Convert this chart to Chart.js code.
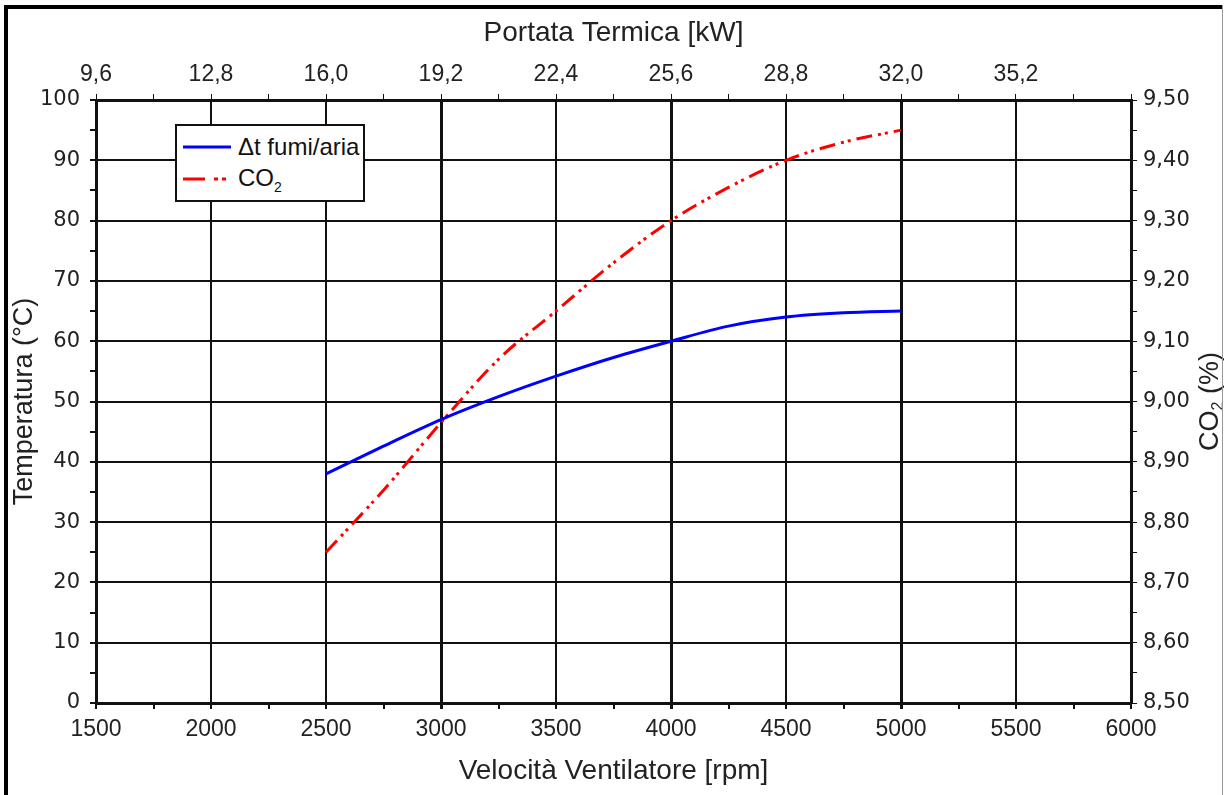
<!DOCTYPE html>
<html>
<head>
<meta charset="utf-8">
<script src="https://cdn.jsdelivr.net/npm/chart.js@4.4.0/dist/chart.umd.min.js"></script>
<style>
  body { margin: 0; background: #fff; }
  #wrap { position: relative; width: 1227px; height: 795px; overflow: hidden; }
  #frameL { position: absolute; left: 4px; top: 5px; width: 4px; height: 790px; background: #000; }
  #frameT { position: absolute; left: 4px; top: 5px; width: 1219px; height: 4px; background: #000; }
  #frameR { position: absolute; left: 1222px; top: 5px; width: 1px; height: 790px; background: #999; }
  #legend {
    position: absolute; left: 175px; top: 124px; width: 186px; height: 74px;
    border: 2px solid #111; background: #fff;
    font-family: "Liberation Sans", Arial, sans-serif; font-size: 24px; color: #111;
  }
  .row { position: absolute; left: 6px; height: 26px; display: flex; align-items: center; white-space: nowrap; }
  .row svg { margin-right: 7px; }
</style>
</head>
<body>
<div id="wrap">
  <canvas id="chart" width="1227" height="795"></canvas>
  <div id="frameL"></div><div id="frameT"></div><div id="frameR"></div>
  <div id="legend">
    <div class="row" style="top:8px">
      <svg width="48" height="6"><line x1="0" y1="3" x2="48" y2="3" stroke="#0000ff" stroke-width="3"/></svg>
      <span>&Delta;t fumi/aria</span>
    </div>
    <div class="row" style="top:40px">
      <svg width="48" height="6"><line x1="0" y1="3" x2="48" y2="3" stroke="#ff0000" stroke-width="3" stroke-dasharray="22,9,4,4,4,20"/></svg>
      <span>CO<sub style="font-size:14px">2</sub></span>
    </div>
  </div>
</div>
<script>
// values
const rpm = [2500, 2750, 3000, 3250, 3500, 3750, 4000, 4250, 4500, 4750, 5000];
const dtFumi = [38, 42.6, 47, 50.8, 54.2, 57.3, 60, 62.5, 64, 64.7, 65];
const co2 = [8.75, 8.853, 8.965, 9.07, 9.15, 9.23, 9.30, 9.355, 9.40, 9.43, 9.45];

// axis ranges / ticks
const rpmRange = [1500, 6000];
const kwRange = [9.6, 38.4];
const tempRange = [0, 100];
const co2Range = [8.5, 9.5];

const comma = (v, d) => v.toFixed(d).replace('.', ',');
const xFont = { family: '"Liberation Sans Narrow", "Liberation Sans", Arial', size: 23 };
const yFont = { family: '"DejaVu Sans", sans-serif', size: 21 };
const titleFont = { family: '"Liberation Sans", Arial', size: 28, lineHeight: 1 };

function pts(ys) {
  return rpm.map((x, i) => ({ x: x, y: ys[i] }));
}

// right axis title reads bottom-to-top, with a subscript 2
const co2Title = {
  id: 'co2Title',
  afterDraw(chart) {
    const ctx = chart.ctx;
    const a = chart.chartArea;
    ctx.save();
    ctx.translate(1211, (a.top + a.bottom) / 2);
    ctx.rotate(-Math.PI / 2);
    ctx.fillStyle = '#222';
    ctx.textBaseline = 'middle';
    ctx.font = '27px "Liberation Sans", Arial';
    const w1 = ctx.measureText('CO').width;
    ctx.font = '16px "Liberation Sans", Arial';
    const w2 = ctx.measureText('2').width;
    ctx.font = '27px "Liberation Sans", Arial';
    const w3 = ctx.measureText(' (%)').width;
    let x = -(w1 + w2 + w3) / 2;
    ctx.textAlign = 'left';
    ctx.fillText('CO', x, 0);
    x += w1;
    ctx.font = '16px "Liberation Sans", Arial';
    ctx.fillText('2', x, 8);
    x += w2;
    ctx.font = '27px "Liberation Sans", Arial';
    ctx.fillText(' (%)', x, 0);
    ctx.restore();
  }
};

new Chart(document.getElementById('chart'), {
  type: 'line',
  data: {
    datasets: [{
      label: 'Δt fumi/aria',
      data: pts(dtFumi),
      xAxisID: 'x',
      yAxisID: 'y',
      borderColor: '#0000ff',
      borderWidth: 3,
      pointRadius: 0,
      cubicInterpolationMode: 'monotone'
    }, {
      label: 'CO2',
      data: pts(co2),
      xAxisID: 'x',
      yAxisID: 'y2',
      borderColor: '#ff0000',
      borderWidth: 3,
      borderDash: [16, 6, 3, 4, 3, 6],
      pointRadius: 0,
      cubicInterpolationMode: 'monotone'
    }]
  },
  plugins: [co2Title],
  options: {
    responsive: false,
    animation: false,
    events: [],
    layout: { padding: 0 },
    plugins: { legend: { display: false }, tooltip: { enabled: false } },
    scales: {
      x: {
        type: 'linear',
        position: 'bottom',
        min: rpmRange[0],
        max: rpmRange[1],
        afterFit: (s) => { s.height = 92; },
        border: { color: '#111', width: 3 },
        grid: {
          color: (c) => c.tick && c.tick.value % 500 === 0 ? '#111' : 'rgba(0,0,0,0)',
          lineWidth: (c) => c.tick && [3000, 4000, 5000].includes(c.tick.value) ? 3 : 2,
          tickColor: '#111',
          tickLength: 6
        },
        ticks: {
          stepSize: 250,
          autoSkip: false,
          maxRotation: 0,
          padding: 7,
          color: '#222',
          font: xFont,
          callback: (v) => v % 500 === 0 ? String(v) : ''
        },
        title: {
          display: true,
          text: 'Velocità Ventilatore [rpm]',
          color: '#222',
          font: titleFont,
          padding: { top: 0, bottom: 10 }
        }
      },
      x2: {
        type: 'linear',
        position: 'top',
        min: kwRange[0],
        max: kwRange[1],
        afterFit: (s) => { s.height = 100; },
        border: { color: '#111', width: 3 },
        grid: { drawOnChartArea: false, tickColor: '#111', tickLength: 6 },
        ticks: {
          stepSize: 1.6,
          autoSkip: false,
          maxRotation: 0,
          padding: 6,
          color: '#222',
          font: xFont,
          callback: (v, i) => (i % 2 === 0 && i < 18) ? comma(v, 1) : ''
        },
        title: {
          display: true,
          text: 'Portata Termica [kW]',
          color: '#222',
          font: titleFont,
          padding: { top: 19, bottom: 0 }
        }
      },
      y: {
        position: 'left',
        min: tempRange[0],
        max: tempRange[1],
        afterFit: (s) => { s.width = 96; },
        border: { color: '#111', width: 3 },
        grid: {
          color: (c) => c.tick && c.tick.value % 10 === 0 ? '#111' : 'rgba(0,0,0,0)',
          lineWidth: 2,
          tickColor: '#111',
          tickLength: 6
        },
        ticks: {
          stepSize: 5,
          autoSkip: false,
          padding: 10,
          color: '#222',
          font: yFont,
          callback: (v) => v % 10 === 0 ? String(v) : ''
        },
        title: {
          display: true,
          text: 'Temperatura (°C)',
          color: '#222',
          font: { family: '"Liberation Sans", Arial', size: 27, lineHeight: 1 },
          padding: { top: 11, bottom: 0 }
        }
      },
      y2: {
        position: 'right',
        min: co2Range[0],
        max: co2Range[1],
        afterFit: (s) => { s.width = 96; },
        border: { color: '#111', width: 3 },
        grid: { drawOnChartArea: false, tickColor: '#111', tickLength: 6 },
        ticks: {
          stepSize: 0.05,
          autoSkip: false,
          padding: 6,
          color: '#222',
          font: yFont,
          callback: (v) => Math.round(v * 100) % 10 === 0 ? comma(v, 2) : ''
        }
      }
    }
  }
});
</script>
</body>
</html>
